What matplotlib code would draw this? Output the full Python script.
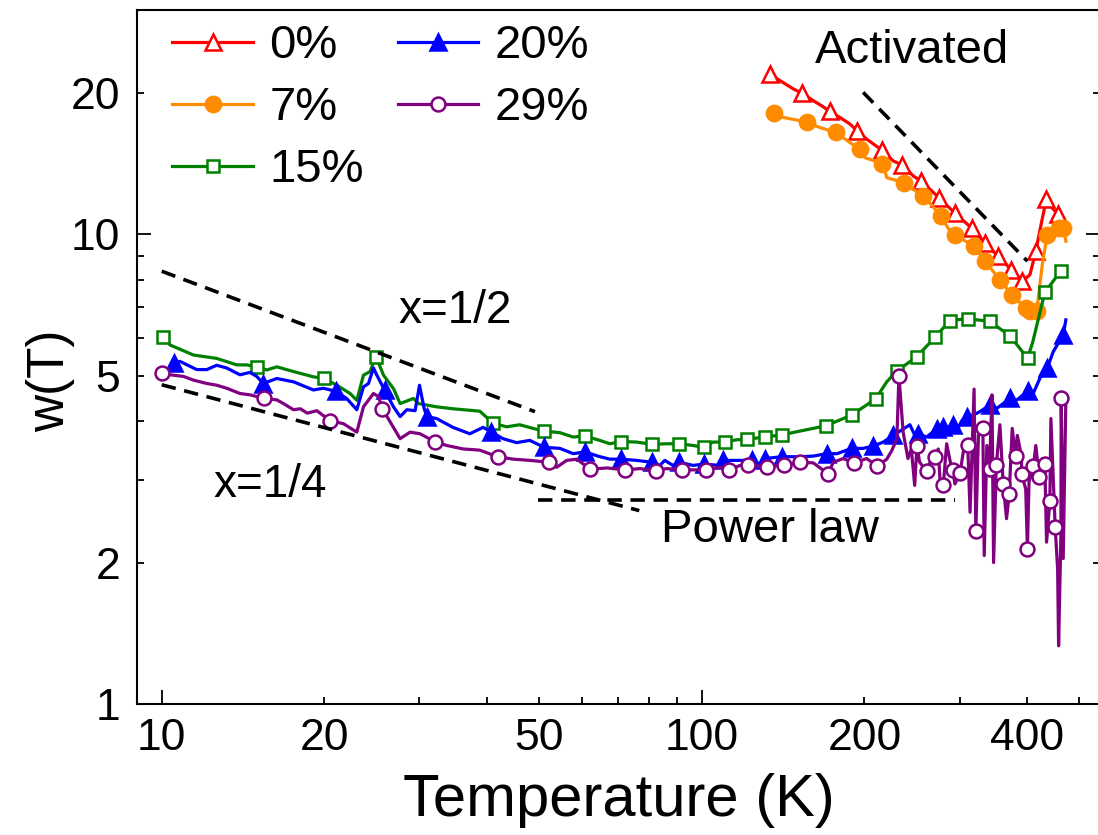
import matplotlib
matplotlib.use("Agg")
import matplotlib.pyplot as plt
from matplotlib.ticker import FixedLocator, FuncFormatter

plt.rcParams['font.family'] = ['Liberation Sans', 'DejaVu Sans']

# 0 %: open red triangles
T0 = [133.6, 139.5, 147.6, 153.4, 160.8, 166.6, 172.6, 180.2, 188.0, 193.9, 201.9,
      215.4, 226.1, 235.0, 246.3, 254.6, 264.5, 274.8, 293.8, 315.8, 334.3, 354.0,
      373.7, 392.3, 405.1, 415.5, 426.0, 434.4, 445.0, 455.7, 467.1]
w0 = [21.94, 21.23, 20.39, 19.94, 19.24, 18.77, 18.25, 17.72, 17.16, 16.60, 15.94,
      15.10, 14.32, 14.04, 13.30, 12.98, 12.46, 11.96, 11.10, 10.31, 9.58, 8.97,
      8.41, 7.94, 8.20, 9.23, 10.66, 11.86, 11.38, 11.05, 10.40]
m0 = [0, 3, 6, 9, 11, 13, 15, 17, 18, 19, 20, 21, 22, 23, 25, 27, 29]

# 7 %: filled orange circles
T7 = [135.8, 141.4, 149.8, 156.3, 165.4, 177.2, 188.0, 196.2, 200.4, 216.0, 220.1,
      236.7, 256.5, 265.4, 276.8, 288.0, 294.2, 318.7, 334.3, 356.4, 374.8, 397.8,
      405.1, 416.8, 427.0, 436.2, 442.9, 458.4, 466.9, 472.2]
w7 = [18.07, 17.72, 17.50, 17.29, 16.87, 16.46, 15.67, 15.17, 14.55, 14.13, 13.19,
      12.87, 12.06, 11.59, 10.93, 10.15, 9.98, 9.43, 8.76, 8.00, 7.43, 6.96,
      6.85, 6.85, 8.62, 9.98, 10.15, 10.31, 10.31, 9.66]
m7 = [0, 3, 5, 7, 9, 11, 12, 14, 16, 17, 18, 19, 20, 21, 22, 23, 25, 27, 28]

# 15 %: open green squares
T15 = [10.07, 10.36, 11.45, 12.64, 13.77, 14.37, 14.99, 15.65, 16.33, 17.54, 19.09,
       19.98, 21.09, 22.33, 22.97, 23.63, 24.30, 24.93, 25.74, 26.86, 27.63, 29.25,
       29.88, 32.3, 34.6, 38.8, 41.07, 43.5, 46.0, 48.7, 50.98, 54.6, 57.8, 60.7,
       64.7, 67.6, 70.8, 75.7, 80.9, 86.0, 90.8, 96.3, 100.9, 104.9, 110.3, 115.9,
       121.0, 130.9, 140.5, 169.7, 189.3, 209.8, 220.0, 229.4, 249.8, 270.1, 288.0,
       311.2, 341.1, 371.9, 401.1, 410.0, 431.6, 462.3]
w15 = [6.05, 5.81, 5.53, 5.44, 5.27, 5.27, 5.22, 5.14, 5.22, 5.10, 4.97,
       4.93, 4.77, 4.58, 4.43, 5.01, 5.10, 5.49, 5.01, 4.69, 4.36, 4.47,
       4.36, 4.29, 4.25, 4.20, 3.96, 3.89, 3.93, 3.86, 3.81, 3.78, 3.70, 3.72,
       3.64, 3.58, 3.62, 3.61, 3.57, 3.58, 3.58, 3.55, 3.52, 3.61, 3.61, 3.65,
       3.66, 3.70, 3.74, 3.91, 4.12, 4.46, 4.85, 5.11, 5.48, 6.03, 6.55,
       6.61, 6.52, 6.08, 5.44, 5.90, 7.52, 8.36]
m15 = [0, 6, 11, 17, 26, 30, 33, 36, 38, 40, 42, 44, 46, 47, 48, 49, 50, 51, 53,
       54, 55, 56, 57, 58, 59, 60, 62, 63]

# 20 %: filled blue triangles
T20 = [10.54, 10.81, 11.61, 12.12, 12.64, 13.19, 13.96, 14.57, 14.99, 15.42, 16.33,
       17.54, 19.09, 19.92, 21.0, 22.0, 22.97, 23.63, 24.14, 24.66, 25.0, 25.85,
       26.86, 27.63, 28.43, 29.45, 30.01, 30.6, 30.95, 32.3, 34.6, 37.19, 39.36,
       40.63, 42.86, 45.39, 48.04, 50.98, 54.6, 57.8, 60.7, 64.75, 67.6, 70.8,
       75.7, 80.9, 83.6, 85.4, 88.4, 90.8, 96.3, 100.9, 108.1, 109.6, 123.6, 129.0,
       130.9, 140.5, 151.9, 160.8, 170.2, 178.0, 189.3, 198.9, 207.8, 216.7, 226.1,
       242.8, 248.0, 251.6, 260.7, 272.0, 279.8, 285.9, 292.1, 297.0, 303.0, 309.3,
       318.0, 327.3, 341.4, 352.0, 371.9, 383.5, 401.1, 410.7, 422.8, 436.2, 447.3,
       467.0, 472.0]
w20 = [5.33, 5.36, 5.15, 5.15, 5.26, 5.19, 5.02, 5.08, 4.98, 4.81, 4.93,
       4.85, 4.66, 4.70, 4.63, 4.47, 4.23, 4.73, 4.81, 5.19, 5.02, 4.66,
       4.29, 4.09, 4.23, 4.21, 4.77, 4.26, 4.09, 4.05, 3.88, 3.76, 3.88,
       3.80, 3.67, 3.60, 3.64, 3.52, 3.50, 3.41, 3.44, 3.36, 3.32, 3.32,
       3.30, 3.27, 3.22, 3.30, 3.22, 3.27, 3.22, 3.24, 3.22, 3.30, 3.30, 3.22,
       3.33, 3.36, 3.36, 3.37, 3.41, 3.41, 3.50, 3.50, 3.54, 3.61, 3.73,
       3.93, 3.73, 3.76, 3.70, 3.85, 3.88, 3.85, 3.92, 3.83, 4.01, 4.09,
       4.12, 4.19, 4.33, 4.26, 4.47, 4.44, 4.64, 4.58, 4.94, 5.19, 5.62,
       6.11, 6.57]
m20 = [0, 9, 14, 21, 28, 33, 37, 40, 43, 45, 49, 51, 53, 54, 56, 57, 60, 62, 64,
       66, 69, 71, 72, 74, 77, 80, 82, 84, 87, 89]

# 29 %: open purple circles
T29 = [10.0, 10.36, 10.97, 11.45, 12.12, 12.64, 13.19, 13.96, 14.57, 15.49, 16.33,
       16.80, 17.54, 18.05, 18.6, 19.37, 20.49, 21.70, 22.97, 23.63, 24.66, 25.2,
       25.6, 26.5, 27.63, 28.83, 30.07, 32.0, 33.7, 36.15, 38.8, 41.86, 44.75,
       48.04, 52.1, 53.85, 56.2, 58.7, 62.1, 66.7, 72.2, 76.9, 82.1, 86.0, 91.95,
       96.3, 101.6, 108.1, 112.3, 117.7, 121.6, 131.8, 141.9, 151.9, 160.8, 171.3,
       175.1, 182.7, 191.2, 201.9, 211.3, 220.0, 224.7, 229.7, 231.7, 235.9, 240.8,
       244.3, 247.8, 250.2, 253.1, 260.7, 266.3, 270.1, 274.0, 276.0, 280.0, 284.0,
       290.1, 291.4, 294.2, 300.6, 304.9, 310.7, 313.8, 319.2, 321.6, 325.2, 331.4,
       333.3, 337.1, 341.0, 344.5, 346.9, 350.9, 356.4, 361.4, 366.6, 370.8, 375.6,
       381.0, 383.8, 390.5, 391.0, 397.8, 400.7, 403.5, 411.2, 415.3, 421.3, 427.4,
       431.6, 434.8, 441.0, 442.9, 451.1, 455.8, 457.7, 462.2, 462.8, 466.8, 472.2]
w29 = [5.06, 5.02, 4.98, 4.89, 4.81, 4.77, 4.70, 4.58, 4.55, 4.47, 4.44,
       4.36, 4.23, 4.25, 4.16, 4.21, 4.01, 3.95, 3.79, 4.29, 4.58, 4.51,
       4.25, 3.98, 3.67, 3.79, 3.76, 3.62, 3.55, 3.49, 3.47, 3.36, 3.32,
       3.30, 3.27, 3.19, 3.30, 3.32, 3.16, 3.18, 3.15, 3.17, 3.13, 3.17, 3.15,
       3.15, 3.15, 3.19, 3.15, 3.22, 3.22, 3.20, 3.22, 3.27, 3.26, 3.09,
       3.27, 3.33, 3.26, 3.33, 3.21, 3.32, 3.46, 3.67, 5.00, 3.79, 3.33,
       3.49, 2.92, 3.54, 3.27, 3.13, 3.33, 3.36, 3.49, 3.01, 2.93, 3.58,
       3.17, 3.15, 2.94, 3.10, 3.44, 3.56, 2.56, 4.68, 2.33, 3.73, 3.87,
       2.07, 3.55, 3.17, 4.55, 2.00, 3.22, 3.93, 2.94, 2.48, 2.80, 3.86,
       3.37, 3.73, 3.38, 3.08, 2.87, 2.14, 2.97, 3.21, 3.55, 3.04, 3.33,
       3.24, 2.21, 2.71, 4.05, 2.38, 1.94, 1.33, 2.28, 4.47, 2.04, 4.55]
m29 = [0, 9, 16, 22, 27, 31, 34, 38, 40, 42, 44, 46, 48, 50, 51, 52, 53, 55, 58,
       60, 64, 69, 71, 73, 76, 79, 81, 83, 86, 88, 91, 94, 96, 98, 100, 103, 105,
       107, 109, 111, 113, 115, 119]

# guide lines (T, w end points)
half_T, half_w = [10.0, 49.1], [8.34, 4.19]
quarter_T, quarter_w = [10.0, 76.6], [4.78, 2.58]
power_T, power_w = [49.7, 294.2], [2.72, 2.72]
act_T, act_w = [198.9, 400.7], [20.04, 8.76]

fig = plt.figure(figsize=(10.98, 8.35), dpi=100)
ax = fig.add_axes([0.1248, 0.1569, 0.877, 0.8311])
ax.set_xscale('log')
ax.set_yscale('log')

lw, mew = 2.3, 1.8
ax.plot(T0, w0, color='#ff0000', lw=lw, marker='^', ms=12, mfc='white', mew=mew,
        markevery=m0, label='0%')
ax.plot(T7, w7, color='#ff8c00', lw=lw, marker='o', ms=11, mfc='#ff8c00', mew=mew,
        markevery=m7, label='7%')
ax.plot(T15, w15, color='#008000', lw=lw, marker='s', ms=9, mfc='white', mew=mew,
        markevery=m15, label='15%')
ax.plot(T20, w20, color='#0000ff', lw=lw, marker='^', ms=12, mfc='#0000ff', mew=mew,
        markevery=m20, label='20%')
ax.plot(T29, w29, color='#800080', lw=lw, marker='o', ms=10, mfc='white', mew=mew,
        markevery=m29, label='29%')

dash = dict(color='black', lw=2.6, ls=(0, (4, 2.4)))
ax.plot(half_T, half_w, **dash)
ax.plot(quarter_T, quarter_w, **dash)
ax.plot(power_T, power_w, **dash)
ax.plot(act_T, act_w, **dash)

ax.text(244.9, 24.6, 'Activated', fontsize=34, ha='center', va='center')
ax.text(34.9, 6.85, 'x=1/2', fontsize=33, ha='center', va='center')
ax.text(15.85, 2.92, 'x=1/4', fontsize=33, ha='center', va='center')
ax.text(133.6, 2.35, 'Power law', fontsize=34, ha='center', va='center')

ax.set_xlim(9.0, 546)
ax.set_ylim(1, 30)

ax.xaxis.set_major_locator(FixedLocator([10, 100]))
ax.xaxis.set_minor_locator(FixedLocator([20, 30, 40, 50, 60, 70, 80, 90, 200, 300, 400, 500]))
ax.yaxis.set_major_locator(FixedLocator([1, 10]))
ax.yaxis.set_minor_locator(FixedLocator([2, 3, 4, 5, 6, 7, 8, 9, 20, 30]))
ax.xaxis.set_major_formatter(FuncFormatter(lambda v, p: f'{v:g}'))
ax.yaxis.set_major_formatter(FuncFormatter(lambda v, p: f'{v:g}'))
ax.xaxis.set_minor_formatter(FuncFormatter(lambda v, p: f'{v:g}' if v in (20, 50, 200, 400) else ''))
ax.yaxis.set_minor_formatter(FuncFormatter(lambda v, p: f'{v:g}' if v in (2, 5, 20) else ''))

ax.tick_params(which='both', direction='in', top=False, right=True, labelsize=32, width=1.3)
ax.tick_params(axis='x', which='both', pad=10)
ax.tick_params(axis='y', which='both', pad=12)
ax.tick_params(which='major', length=10)
ax.tick_params(which='minor', length=5)
for sp in ax.spines.values():
    sp.set_linewidth(1.5)

ax.set_xlabel('Temperature (K)', fontsize=43, labelpad=10)
ax.set_ylabel('w(T)', fontsize=37)
ax.yaxis.set_label_coords(-0.064, 0.465)

ax.legend(loc='upper left', bbox_to_anchor=(0.027, 0.993), ncol=2, frameon=False,
          fontsize=34, handlelength=1.7, handletextpad=0.35, columnspacing=0.72,
          labelspacing=0.38, borderpad=0.2, borderaxespad=0.0)

fig.savefig('out.png', dpi=100)
